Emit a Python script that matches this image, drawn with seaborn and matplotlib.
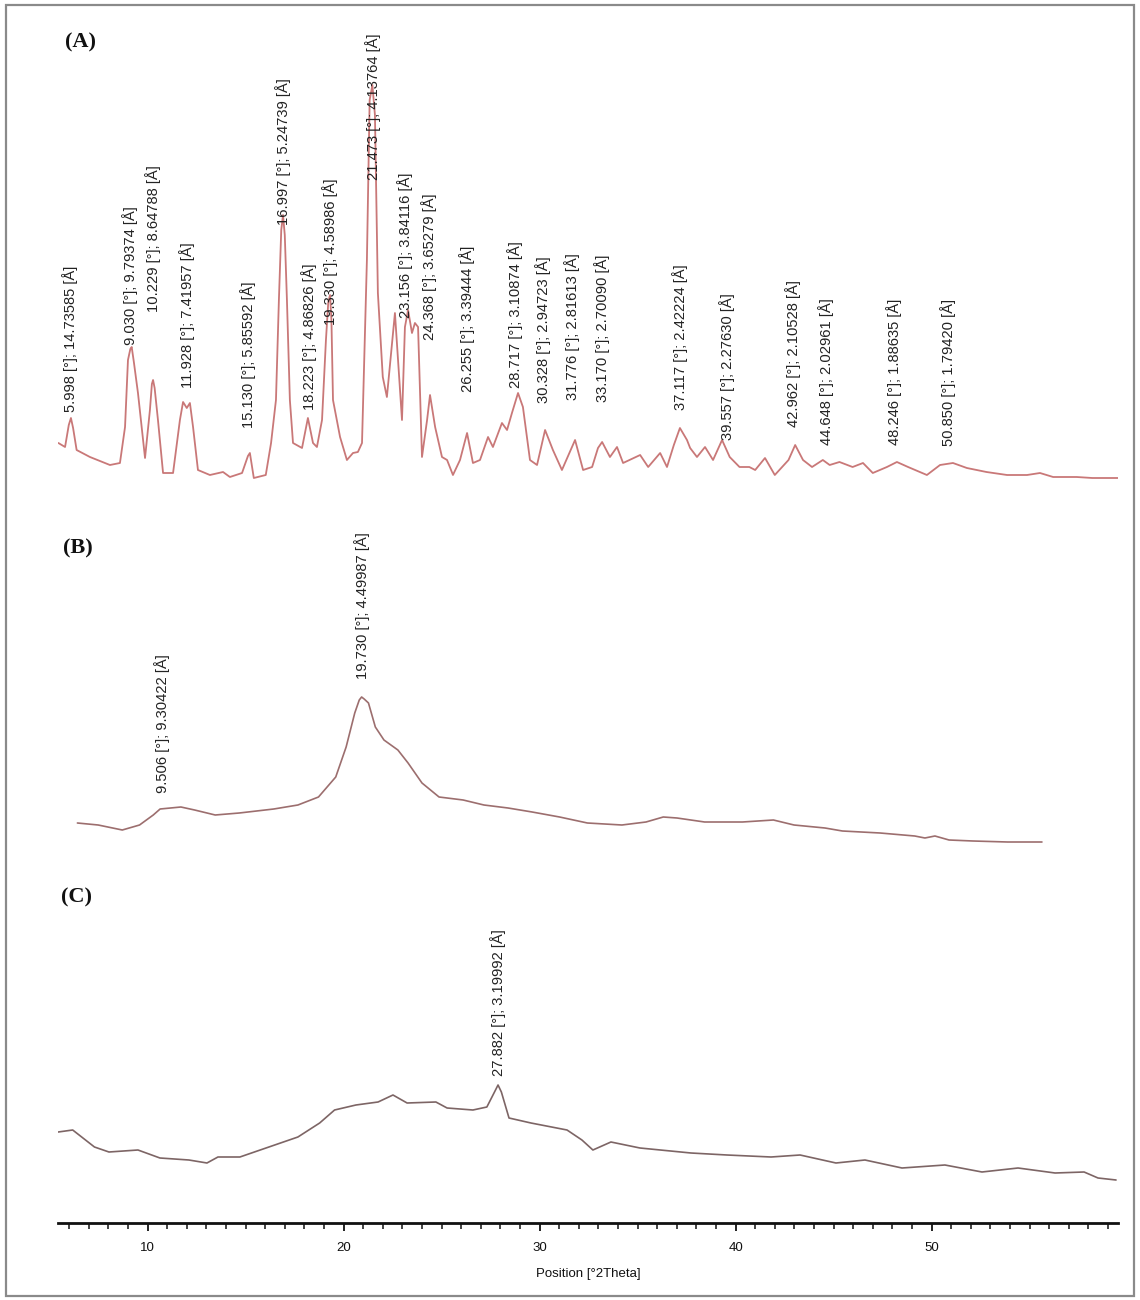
import numpy as np
import pandas as pd
import matplotlib
matplotlib.use("Agg")
import matplotlib.pyplot as plt
import seaborn as sns
from matplotlib.patches import Rectangle
from matplotlib.ticker import MultipleLocator

# ---------------- data (2theta in degrees, intensity in arbitrary units) ----------------
a_theta = [5.45, 5.79, 5.98, 6.09, 6.20, 6.38, 7.06, 8.08, 8.59, 8.85, 9.00, 9.12, 9.19, 9.30,
           9.51, 9.87, 10.12, 10.22, 10.28, 10.36,
           10.53, 10.79, 11.30, 11.65, 11.81, 12.00, 12.16, 12.32, 12.57, 13.18, 13.85, 14.20,
           14.82, 15.12, 15.22, 15.42, 16.03, 16.30, 16.55, 16.70, 16.82, 16.91, 17.00, 17.11,
           17.26, 17.42, 17.88,
           18.18, 18.44, 18.64, 18.90, 19.10, 19.22, 19.31, 19.38, 19.46, 19.82, 20.17, 20.48,
           20.73, 20.94, 21.19, 21.33, 21.47, 21.60, 21.75, 22.00, 22.21, 22.47, 22.62, 22.78,
           22.98, 23.13, 23.29, 23.49,
           23.64, 23.80, 24.00, 24.26, 24.41, 24.67, 25.02, 25.28, 25.58, 25.94, 26.30, 26.60,
           26.96, 27.37, 27.62, 28.08, 28.34, 28.59, 28.90, 29.15, 29.51, 29.87, 30.28, 30.68,
           31.14, 31.81, 32.22, 32.68, 32.98, 33.19, 33.59, 33.95, 34.26, 35.13, 35.54, 36.15,
           36.50, 36.85, 37.16, 37.52, 37.68, 38.03, 38.44, 38.85, 39.31, 39.70, 40.20, 40.70,
           41.00, 41.50, 42.00, 42.70, 43.04, 43.44, 43.90, 44.45, 44.80, 45.30, 45.97, 46.50,
           47.00, 47.72, 48.23, 48.80, 49.76, 50.43, 51.09, 51.80, 52.80, 53.85, 54.87, 55.53,
           56.20, 57.40, 58.20, 59.50]
a_int = [37, 33, 55, 62, 52, 30, 23, 15, 17, 53, 120, 131, 133, 118,
         87, 22, 70, 96, 100, 92,
         60, 7, 7, 60, 78, 72, 77, 53, 10, 5, 8, 3,
         7, 24, 27, 2, 5, 37, 80, 180, 250, 265, 245, 180,
         80, 37, 32,
         62, 37, 33, 60, 140, 178, 185, 160, 80, 43, 20, 27,
         28, 37, 220, 380, 395, 365, 187, 103, 83, 137, 167, 120,
         60, 153, 170, 147,
         157, 153, 23, 60, 85, 53, 23, 20, 5, 20, 47, 17,
         20, 43, 33, 57, 50, 67, 87, 73, 20, 15, 50, 30,
         10, 40, 10, 13, 32, 38, 23, 33, 17, 25, 13, 27,
         13, 35, 52, 40, 32, 23, 33, 20, 40, 23, 13, 13,
         10, 22, 5, 20, 35, 20, 13, 20, 15, 18, 13, 17,
         7, 13, 18, 13, 5, 15, 17, 12, 8, 5, 5, 7,
         3, 3, 2, 2]

b_theta = [6.42, 7.48, 8.71, 9.59, 10.29, 10.64, 11.70, 12.40, 13.45, 14.68, 16.44, 17.67,
           18.72, 19.60, 20.13, 20.57, 20.80, 20.92, 21.05, 21.27, 21.62, 22.06, 22.77, 23.29,
           24.00, 24.87,
           26.10, 27.16, 28.39, 29.62, 31.02, 32.44, 34.20, 35.43, 36.31, 37.01, 38.42, 40.35,
           41.93, 42.98, 44.56, 45.45, 47.37, 49.14, 49.66, 50.17, 50.89, 52.11, 53.88, 55.63]
b_int = [37, 35, 30, 35, 45, 51, 53, 50, 45, 47, 51, 55,
         63, 83, 113, 147, 160, 163, 161, 157, 133, 120, 110, 97,
         77, 63,
         60, 55, 52, 48, 43, 37, 35, 38, 43, 42, 38, 38,
         40, 35, 32, 29, 27, 24, 22, 24, 20, 19, 18, 18]

c_theta = [5.44, 6.18, 7.29, 8.03, 9.51, 10.63, 12.11, 13.03, 13.59, 14.71, 16.19, 17.67,
           18.78, 19.54, 20.63, 21.76, 22.52, 23.24, 24.71, 25.28, 26.60, 27.31, 27.70, 27.88,
           28.05, 28.44,
           29.56, 31.40, 32.16, 32.72, 33.64, 35.12, 37.72, 39.56, 41.81, 43.29, 45.12, 46.60,
           48.49, 50.68, 52.57, 54.41, 56.30, 57.78, 58.49, 59.41]
c_int = [68, 70, 53, 48, 50, 42, 40, 37, 43, 43, 53, 63,
         77, 90, 95, 98, 105, 97, 98, 92, 90, 93, 108, 115,
         108, 82,
         77, 70, 60, 50, 58, 52, 47, 45, 43, 45, 37, 40,
         32, 35, 28, 32, 27, 28, 22, 20]

a_labels = ["5.998 [°]; 14.73585 [Å]", "9.030 [°]; 9.79374 [Å]", "10.229 [°]; 8.64788 [Å]",
            "11.928 [°]; 7.41957 [Å]", "15.130 [°]; 5.85592 [Å]", "16.997 [°]; 5.24739 [Å]",
            "18.223 [°]; 4.86826 [Å]", "19.330 [°]; 4.58986 [Å]", "21.473 [°]; 4.13764 [Å]",
            "23.156 [°]; 3.84116 [Å]", "24.368 [°]; 3.65279 [Å]", "26.255 [°]; 3.39444 [Å]",
            "28.717 [°]; 3.10874 [Å]", "30.328 [°]; 2.94723 [Å]", "31.776 [°]; 2.81613 [Å]",
            "33.170 [°]; 2.70090 [Å]", "37.117 [°]; 2.42224 [Å]", "39.557 [°]; 2.27630 [Å]",
            "42.962 [°]; 2.10528 [Å]", "44.648 [°]; 2.02961 [Å]", "48.246 [°]; 1.88635 [Å]",
            "50.850 [°]; 1.79420 [Å]"]
b_labels = ["9.506 [°]; 9.30422 [Å]", "19.730 [°]; 4.49987 [Å]"]
c_labels = ["27.882 [°]; 3.19992 [Å]"]

panel_names = ["(A)", "(B)", "(C)"]
x_ticks = [10, 20, 30, 40, 50]
x_title = "Position [°2Theta]"

# ---------------- layout (positions of label anchors, offsets) ----------------
a_lab_x = [6.04, 9.10, 10.28, 12.01, 15.12, 16.91, 18.24, 19.31, 21.50, 23.13, 24.36, 26.30,
           28.74, 30.17, 31.65, 33.18, 37.16, 39.56, 42.93, 44.61, 48.08, 50.84]
a_lab_y = [68, 135, 168, 92, 52, 255, 70, 155, 300, 162, 140, 88,
           92, 77, 80, 78, 70, 40, 53, 35, 35, 34]
b_lab_x = [10.73, 20.94]
b_lab_y = [67, 181]
c_lab_x = [27.88]
c_lab_y = [124]

offsets = [743, 363, 23]
colors = ["#c97878", "#9c6e6e", "#7d6565"]

sns.set_theme(style="white")
plt.rcParams["font.family"] = ["Liberation Sans", "DejaVu Sans"]

fig = plt.figure(figsize=(11.4, 13.0), dpi=100)
ax = fig.add_axes([58 / 1140, 77 / 1300, 1060 / 1140, 1213 / 1300])
ax.set_xlim(5.43, 59.51)
ax.set_ylim(0, 1213)

series = [(a_theta, a_int), (b_theta, b_int), (c_theta, c_int)]
for (th, it), off, col, lw in zip(series, offsets, colors, [1.3, 1.2, 1.2]):
    df = pd.DataFrame({"theta": th, "y": np.asarray(it, dtype=float) + off})
    sns.lineplot(data=df, x="theta", y="y", ax=ax, color=col, lw=lw,
                 sort=False, estimator=None, legend=False)
for ln in ax.get_lines():
    ln.set_solid_joinstyle("round")

for labs, xs, ys, off in [(a_labels, a_lab_x, a_lab_y, offsets[0]),
                          (b_labels, b_lab_x, b_lab_y, offsets[1]),
                          (c_labels, c_lab_x, c_lab_y, offsets[2])]:
    for t, x, y in zip(labs, xs, ys):
        ax.text(x, y + off, t, rotation=90, ha="center", va="bottom",
                fontsize=10.6, color="#222222", family=["Liberation Sans", "DejaVu Sans"])

# panel letters
for name, ypx, xpx in zip(panel_names, [42, 548, 897], [80, 78, 76]):
    fig.text(xpx / 1140, 1 - ypx / 1300, name, ha="center", va="center",
             fontsize=16, fontweight="bold", family=["Liberation Serif", "DejaVu Serif"],
             color="#111111")

# axis styling
for s in ["top", "right", "left"]:
    ax.spines[s].set_visible(False)
ax.spines["bottom"].set_linewidth(2.0)
ax.spines["bottom"].set_color("#111111")
ax.set_yticks([])
ax.set_xticks(x_ticks)
ax.xaxis.set_minor_locator(MultipleLocator(1))
ax.tick_params(axis="x", which="major", direction="out", length=6, width=1.3,
               labelsize=9.5, pad=8, bottom=True, colors="#111111")
ax.tick_params(axis="x", which="minor", direction="out", length=4, width=1.1,
               bottom=True, colors="#111111")
for lbl in ax.get_xticklabels():
    lbl.set_family(["Liberation Sans Narrow", "Liberation Sans", "DejaVu Sans"])
ax.set_xlabel(x_title, fontsize=9.5, labelpad=10, color="#111111",
              family=["Liberation Sans Narrow", "Liberation Sans", "DejaVu Sans"])
ax.set_ylabel("")
ax.patch.set_alpha(0)

# outer frame
fig.patches.append(Rectangle((6 / 1140, 4 / 1300), 1128 / 1140, 1291 / 1300,
                             transform=fig.transFigure, fill=False,
                             edgecolor="#8a8a8a", lw=1.6))

fig.savefig("out.png", dpi=100)
